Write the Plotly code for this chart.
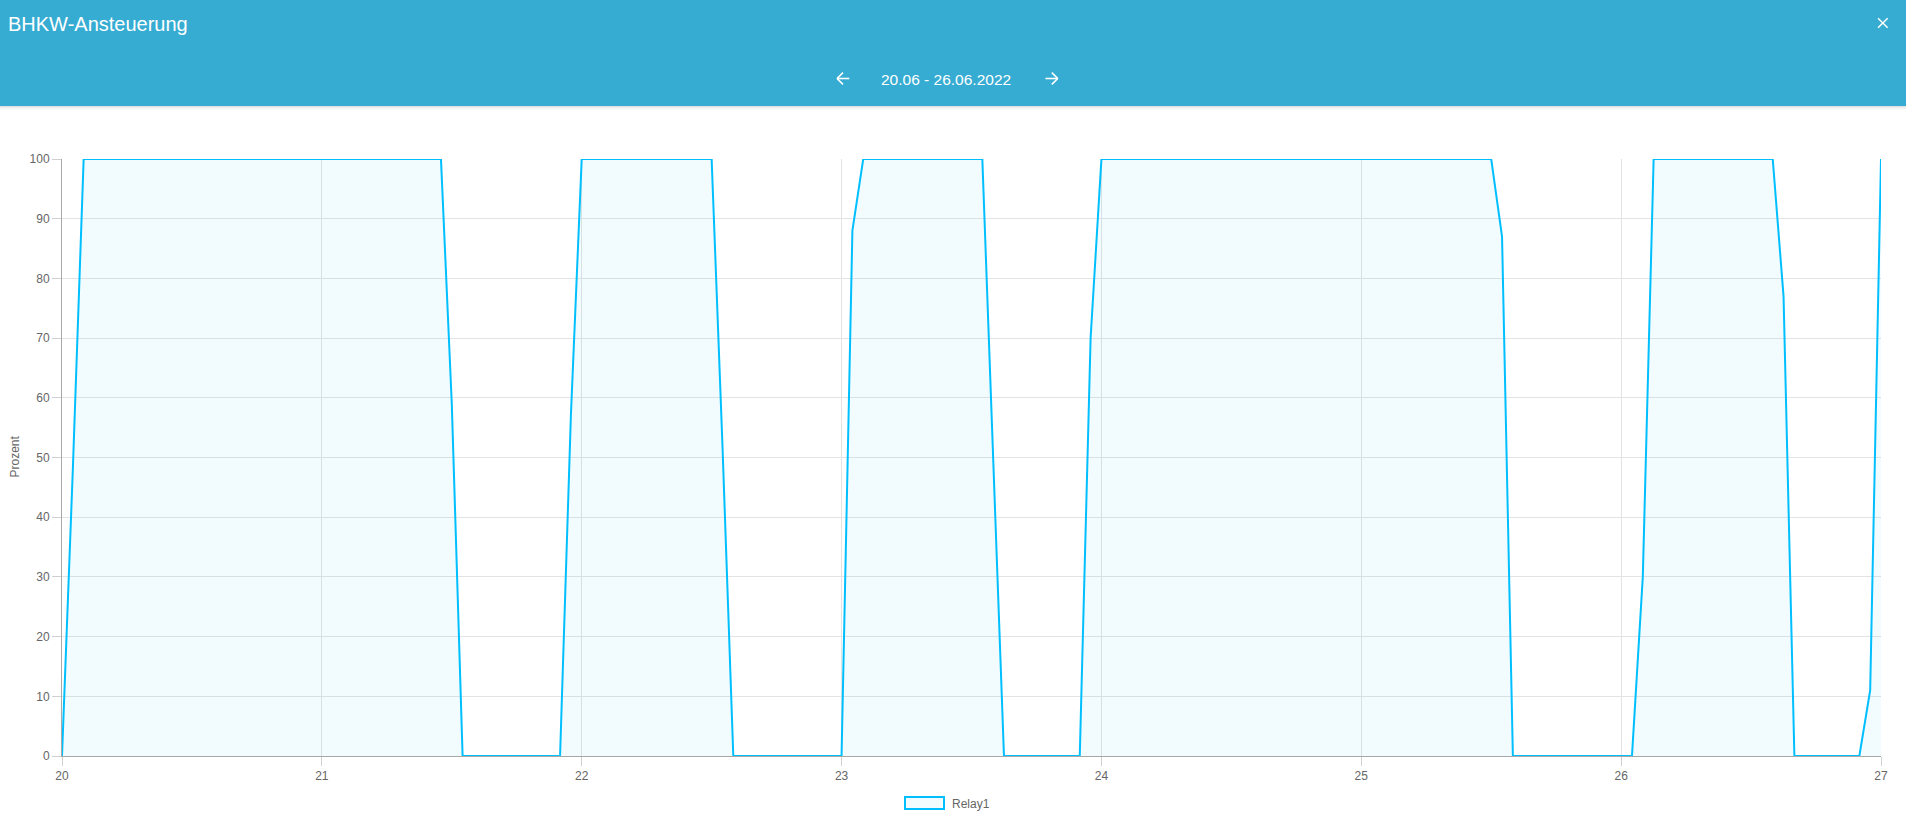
import plotly.graph_objects as go

# ---- data (hours since 20.06.2022 00:00, relay percentage) ----
hours = [0, 1, 2, 35, 36, 37, 46, 47, 48, 60, 61, 62, 72, 73, 74, 85, 86, 87,
         94, 95, 96, 132, 133, 134, 145, 146, 147, 158, 159, 160, 166, 167, 168]
relay1 = [0, 48, 100, 100, 59, 0, 0, 57, 100, 100, 52, 0, 0, 88, 100, 100, 50, 0,
          0, 70, 100, 100, 87, 0, 0, 30, 100, 100, 77, 0, 0, 11, 100]
start_day = 20
x_ticks = [20, 21, 22, 23, 24, 25, 26, 27]
y_ticks = [0, 10, 20, 30, 40, 50, 60, 70, 80, 90, 100]
series_name = "Relay1"
title_text = "BHKW-Ansteuerung"
date_text = "20.06 - 26.06.2022"
y_title = "Prozent"

days = [start_day + h / 24 for h in hours]

W, H = 1906, 821
L, R, T, B = 62, 1881, 159, 756
def px(x):
    return (x - L) / (R - L)
def py(y):
    return (B - y) / (B - T)

LINE = "rgb(0,191,255)"
FILL = "rgba(0,191,255,0.05)"
HEADER = "#36acd2"
FONT = "Liberation Sans, Arial, Helvetica, sans-serif"
TICK = "#666666"

fig = go.Figure()
fig.add_trace(go.Scatter(
    x=days, y=relay1, mode="lines", name=series_name,
    line=dict(color=LINE, width=2), fill="tozeroy", fillcolor=FILL,
    showlegend=False, hoverinfo="x+y"))

shapes = []
# header band
shapes.append(dict(type="rect", xref="paper", yref="paper",
                   x0=px(0), x1=px(W), y0=py(106), y1=py(0),
                   fillcolor=HEADER, line=dict(width=0), layer="above"))
# shadow under header
for i, c in enumerate(["rgba(0,0,0,0.12)", "rgba(0,0,0,0.07)", "rgba(0,0,0,0.04)", "rgba(0,0,0,0.02)"]):
    shapes.append(dict(type="rect", xref="paper", yref="paper",
                       x0=px(0), x1=px(W), y0=py(107 + i), y1=py(106 + i),
                       fillcolor=c, line=dict(width=0), layer="above"))
# close X
for (a, b, c, d) in [(1878, 18.3, 1887.7, 27.7), (1878, 27.7, 1887.7, 18.3)]:
    shapes.append(dict(type="line", xref="paper", yref="paper",
                       x0=px(a), y0=py(b), x1=px(c), y1=py(d),
                       line=dict(color="white", width=1.5), layer="above"))
# left arrow
ay = 78.5
for seg in [(837, ay, 849.3, ay), (837, ay, 843, 72.7), (837, ay, 843, 84.3)]:
    shapes.append(dict(type="line", xref="paper", yref="paper",
                       x0=px(seg[0]), y0=py(seg[1]), x1=px(seg[2]), y1=py(seg[3]),
                       line=dict(color="white", width=1.6), layer="above"))
# right arrow
for seg in [(1045.5, ay, 1057.8, ay), (1057.8, ay, 1051.8, 72.7), (1057.8, ay, 1051.8, 84.3)]:
    shapes.append(dict(type="line", xref="paper", yref="paper",
                       x0=px(seg[0]), y0=py(seg[1]), x1=px(seg[2]), y1=py(seg[3]),
                       line=dict(color="white", width=1.6), layer="above"))
# legend box
shapes.append(dict(type="rect", xref="paper", yref="paper",
                   x0=px(905), x1=px(944), y0=py(809), y1=py(797),
                   fillcolor="rgba(0,191,255,0.05)", line=dict(color=LINE, width=2)))

annotations = [
    dict(text=title_text, xref="paper", yref="paper", x=px(6), y=py(24.5),
         xanchor="left", yanchor="middle", showarrow=False,
         font=dict(family=FONT, size=20, color="white")),
    dict(text=date_text, xref="paper", yref="paper", x=px(946), y=py(79.5),
         xanchor="center", yanchor="middle", showarrow=False,
         font=dict(family=FONT, size=15.5, color="white")),
    dict(text=y_title, xref="paper", yref="paper", x=px(14.5), y=py(457),
         xanchor="center", yanchor="middle", showarrow=False, textangle=-90,
         font=dict(family=FONT, size=12, color=TICK)),
    dict(text=series_name, xref="paper", yref="paper", x=px(950), y=py(803.5),
         xanchor="left", yanchor="middle", showarrow=False,
         font=dict(family=FONT, size=12, color=TICK)),
]

fig.update_layout(
    width=W, height=H,
    margin=dict(l=L, r=W - R, t=T, b=H - B, pad=0),
    paper_bgcolor="white", plot_bgcolor="white",
    font=dict(family=FONT, size=12, color=TICK),
    shapes=shapes, annotations=annotations,
    showlegend=False,
    xaxis=dict(range=[20, 27], tickvals=x_ticks, ticktext=[str(v) for v in x_ticks],
               showgrid=True, gridcolor="#e3e3e3", gridwidth=1,
               showline=True, linecolor="#a8a8a8", linewidth=1,
               ticks="outside", ticklen=9, tickcolor="#d0d0d0",
               zeroline=False, tickfont=dict(size=12, color=TICK), fixedrange=True),
    yaxis=dict(range=[0, 100], tickvals=y_ticks,
               showgrid=True, gridcolor="#e3e3e3", gridwidth=1,
               showline=True, linecolor="#a8a8a8", linewidth=1,
               ticks="outside", ticklen=9, tickcolor="#d0d0d0",
               zeroline=False, tickfont=dict(size=12, color=TICK), fixedrange=True),
)

fig.write_html("out.html", config={"displayModeBar": False})
